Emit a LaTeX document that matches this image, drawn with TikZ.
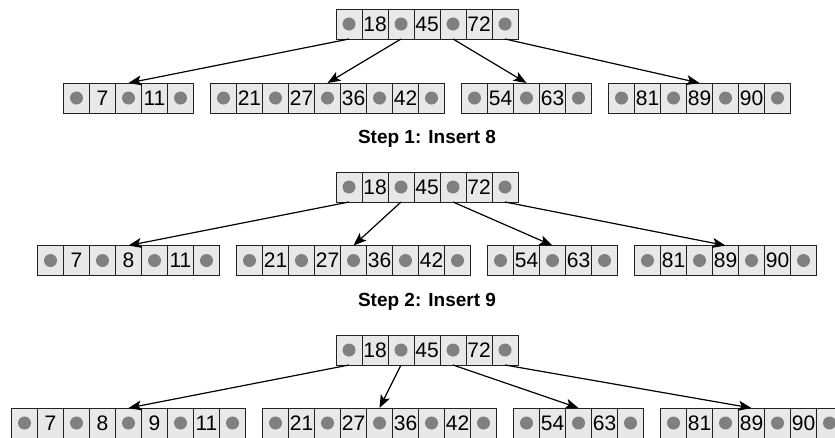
\documentclass[tikz,border=0pt]{standalone}
\usepackage{fontspec}
\setmainfont{Liberation Sans}
\usetikzlibrary{arrows.meta,calc}
\definecolor{cellgray}{HTML}{E8E8E8}
\definecolor{dotgray}{HTML}{808080}
\definecolor{edgec}{HTML}{222222}
\newcommand\cw{26}
\newcommand\ch{30}
\tikzset{
  cellbase/.style={draw=edgec, line width=0.9pt, fill=cellgray, minimum width=26pt,
    minimum height=30pt, inner sep=0pt, outer sep=0pt, anchor=north west,
    font=\fontsize{21}{24}\selectfont, text=black},
  keycell/.style={cellbase},
  ptrcell/.style={cellbase},
  nodebox/.style={draw=none, minimum height=30pt, inner sep=0pt, outer sep=0pt, anchor=north west},
  dotc/.style={fill=dotgray},
  arr/.style={line width=1.2pt, -{Stealth[length=13pt,width=10pt,inset=3pt]}},
  steplabel/.style={font=\bfseries\fontsize{19}{22}\selectfont, anchor=base}
}
% #1 name, #2 left x, #3 top y, #4 number of keys, #5 keys
\newcommand\bnode[5]{%
  \node[nodebox, minimum width={(2*#4+1)*26pt}] (#1) at (#2,#3) {};
  \foreach \k [count=\i] in {#5} {
    \node[keycell] at ($(#1.north west)+({(2*\i-1)*\cw},0)$) {\k};
  }
  \foreach \j in {0,...,#4} {
    \node[ptrcell] (#1p\j) at ($(#1.north west)+({2*\j*\cw},0)$) {};
    \fill[dotc] (#1p\j.center) circle (6.5pt);
  }
}
\begin{document}
\begin{tikzpicture}[x=1pt,y=-1pt]
\useasboundingbox (0,0) rectangle (835,437);
\clip (0,0) rectangle (835,437);
% ---- block 1
\bnode{RA}{336}{9}{3}{18,45,72}
\bnode{LAa}{63.5}{83}{2}{7,11}
\bnode{LAb}{210.5}{83}{4}{21,27,36,42}
\bnode{LAc}{461.5}{83}{2}{54,63}
\bnode{LAd}{608.5}{83}{3}{81,89,90}
\draw[arr] (RAp0.south) -- (LAa.north);
\draw[arr] (RAp1.south) -- (LAb.north);
\draw[arr] (RAp2.south) -- (LAc.north);
\draw[arr] (RAp3.south) -- (LAd.north);
\node[steplabel] (S1) at (427,143) {Step 1: Insert 8};
% ---- block 2
\bnode{RB}{336}{172}{3}{18,45,72}
\bnode{LBa}{37.5}{245.5}{3}{7,8,11}
\bnode{LBb}{236.5}{245.5}{4}{21,27,36,42}
\bnode{LBc}{487.5}{245.5}{2}{54,63}
\bnode{LBd}{634.5}{245.5}{3}{81,89,90}
\draw[arr] (RBp0.south) -- (LBa.north);
\draw[arr] (RBp1.south) -- (LBb.north);
\draw[arr] (RBp2.south) -- (LBc.north);
\draw[arr] (RBp3.south) -- (LBd.north);
\node[steplabel] (S2) at (427,306) {Step 2: Insert 9};
% ---- block 3
\bnode{RC}{336}{335}{3}{18,45,72}
\bnode{LCa}{11.5}{408}{4}{7,8,9,11}
\bnode{LCb}{262.5}{408}{4}{21,27,36,42}
\bnode{LCc}{513.5}{408}{2}{54,63}
\bnode{LCd}{660.5}{408}{3}{81,89,90}
\draw[arr] (RCp0.south) -- (LCa.north);
\draw[arr] (RCp1.south) -- (LCb.north);
\draw[arr] (RCp2.south) -- (LCc.north);
\draw[arr] (RCp3.south) -- (LCd.north);
\end{tikzpicture}
\end{document}
